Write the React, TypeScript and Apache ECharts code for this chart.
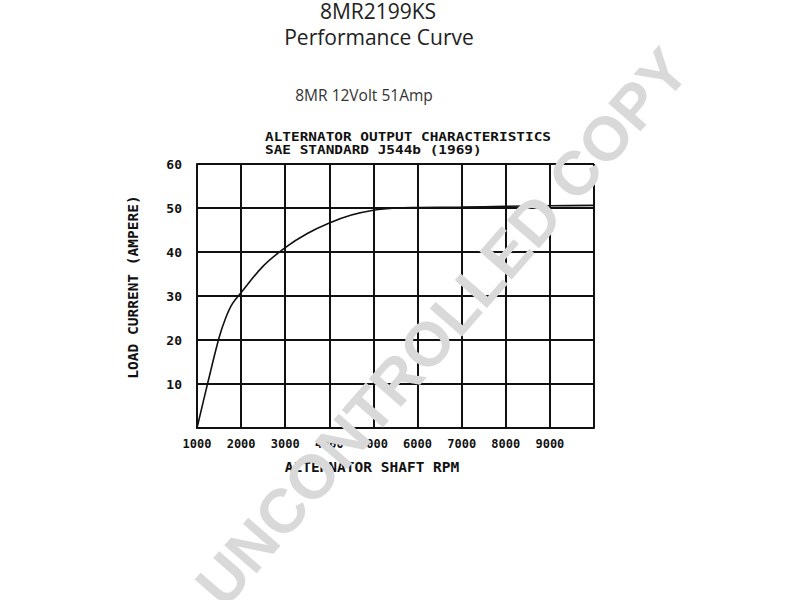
import React, { useEffect, useRef } from "react";
import * as echarts from "echarts";

const rpm = [1000, 1250, 1500, 1650, 1800, 2000, 2500, 3000, 3500, 4000, 4500, 5000, 5500, 6000, 7000, 8000, 9000, 10000];
const amps = [0, 10.5, 20.5, 25, 28.2, 30.8, 36.8, 41, 44.2, 46.6, 48.4, 49.5, 50, 50.1, 50.2, 50.4, 50.5, 50.6];

const title1 = "8MR2199KS";
const title2 = "Performance Curve";
const subtitle = "8MR 12Volt 51Amp";
const chartHead1 = "ALTERNATOR OUTPUT CHARACTERISTICS";
const chartHead2 = "SAE STANDARD J544b (1969)";
const xName = "ALTERNATOR SHAFT RPM";
const yName = "LOAD CURRENT (AMPERE)";
const watermark = "UNCONTROLLED COPY";

const MONO = "'DejaVu Sans Mono', 'Liberation Mono', monospace";
const SANS = "'Open Sans', 'Noto Sans', sans-serif";

export default function App() {
  const ref = useRef<HTMLDivElement>(null);
  useEffect(() => {
    document.body.style.margin = "0";
    const chart = echarts.init(ref.current!, null, { renderer: "svg" });
    chart.setOption({
      animation: false,
      backgroundColor: "#ffffff",
      grid: { left: 197, right: 206, top: 164, bottom: 172, containLabel: false },
      xAxis: {
        type: "value",
        min: 1000,
        max: 10000,
        interval: 1000,
        axisLine: { show: true, lineStyle: { color: "#111", width: 2 } },
        axisTick: { show: false },
        splitLine: { show: true, lineStyle: { color: "#111", width: 2 } },
        axisLabel: {
          color: "#111",
          fontFamily: MONO,
          fontWeight: "bold",
          fontSize: 12,
          margin: 10,
          formatter: (v: number) => (v === 10000 ? "" : String(v)),
        },
      },
      yAxis: {
        type: "value",
        min: 0,
        max: 60,
        interval: 10,
        axisLine: { show: true, lineStyle: { color: "#111", width: 2 } },
        axisTick: { show: false },
        splitLine: { show: true, lineStyle: { color: "#111", width: 2 } },
        axisLabel: {
          color: "#111",
          fontFamily: MONO,
          fontWeight: "bold",
          fontSize: 13,
          margin: 15,
          formatter: (v: number) => (v === 0 ? "" : String(v)),
        },
      },
      series: [
        {
          type: "line",
          data: rpm.map((r, i) => [r, amps[i]]),
          showSymbol: false,
          smooth: 0.35,
          lineStyle: { color: "#111", width: 1.6 },
          z: 3,
        },
        {
          type: "line",
          data: [[1000, 60], [10000, 60]],
          showSymbol: false,
          lineStyle: { color: "#111", width: 2 },
          z: 3,
        },
        {
          type: "line",
          data: [[10000, 0], [10000, 60]],
          showSymbol: false,
          lineStyle: { color: "#111", width: 2 },
          z: 3,
        },
      ],
      graphic: [
        { type: "text", x: 378, y: 0, z: 10, style: { text: title1, font: `21px ${SANS}`, fill: "#222", align: "center", verticalAlign: "top" } },
        { type: "text", x: 379, y: 47, z: 10, style: { text: title2, font: `21px ${SANS}`, fill: "#222", align: "center", verticalAlign: "bottom" } },
        { type: "text", x: 364, y: 103, z: 10, style: { text: subtitle, font: `15.5px ${SANS}`, fill: "#333", align: "center", verticalAlign: "bottom" } },
        { type: "text", x: 265, y: 131, scaleX: 1.2, z: 10, style: { text: chartHead1, font: `bold 12px ${MONO}`, fill: "#111" } },
        { type: "text", x: 265, y: 144, scaleX: 1.2, z: 10, style: { text: chartHead2, font: `bold 12px ${MONO}`, fill: "#111" } },
        { type: "text", x: 372, y: 467, z: 10, style: { text: xName, font: `bold 14.5px ${MONO}`, fill: "#111", align: "center", verticalAlign: "middle" } },
        { type: "text", x: 133, y: 287, rotation: Math.PI / 2, z: 10, style: { text: yName, font: `bold 14.5px ${MONO}`, fill: "#111", align: "center", verticalAlign: "middle" } },
        {
          type: "text",
          x: 442,
          y: 327,
          rotation: (49 * Math.PI) / 180,
          z: 100,
          style: { text: watermark, font: `bold 62px 'Liberation Sans', Arial, sans-serif`, fill: "#d9d9d9", align: "center", verticalAlign: "middle" },
        },
      ],
    });
    return () => chart.dispose();
  }, []);
  return <div ref={ref} style={{ width: 800, height: 600 }} />;
}
